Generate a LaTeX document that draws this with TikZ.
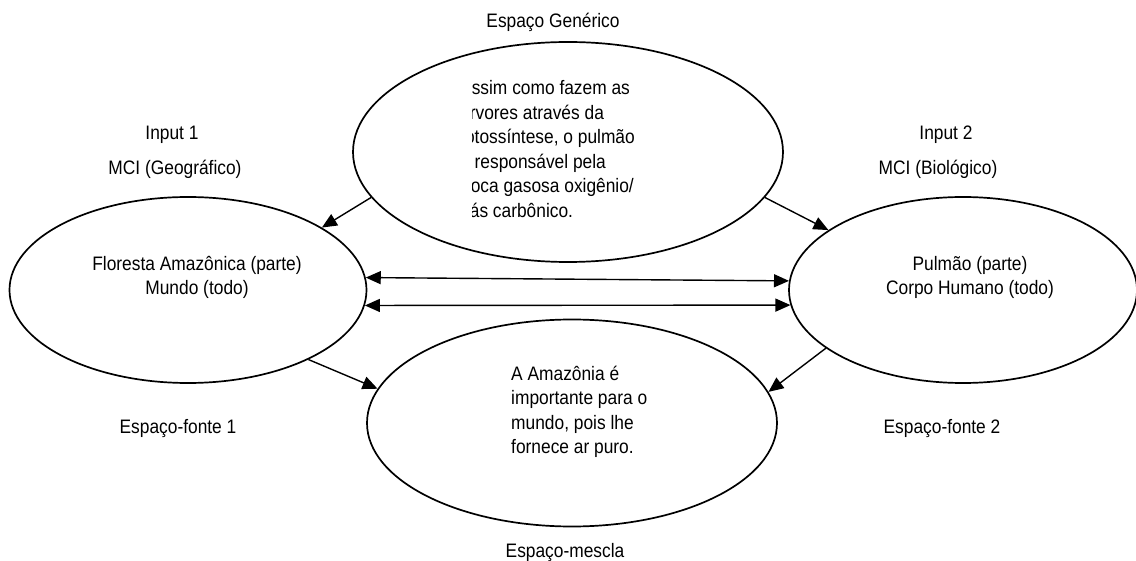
\documentclass[tikz,border=0pt]{standalone}
\usepackage{fontspec}
\setmainfont{Liberation Sans}[FakeStretch=0.89]
\usetikzlibrary{shapes.geometric,arrows.meta}
\begin{document}
\begin{tikzpicture}[x=1pt,y=-1pt,
  every node/.style={font=\fontsize{19.5pt}{24.5pt}\selectfont, inner sep=0pt},
  space/.style={ellipse, draw, line width=1.7pt, inner sep=0pt},
  arr/.style={line width=1.4pt, -{Triangle[length=15pt,width=13pt]}},
  darr/.style={line width=1.4pt, {Triangle[length=15pt,width=13pt]}-{Triangle[length=15pt,width=13pt]}}]
\useasboundingbox (0,0) rectangle (1136,561);
% ellipses
\node[space, minimum width=430pt, minimum height=220pt] (gen) at (568,152) {};
\node[space, minimum width=357pt, minimum height=186pt] (in1) at (188,290) {};
\node[space, minimum width=348pt, minimum height=186pt] (in2) at (963,290) {};
\node[space, minimum width=410pt, minimum height=207pt] (mix) at (572,423) {};
% labels
\node[anchor=base] (lgen) at (553,28) {Espaço Genérico};
\node[anchor=base] (li1) at (172,140) {Input 1};
\node[anchor=base] (lm1) at (175,175) {MCI (Geográfico)};
\node[anchor=base] (li2) at (946,140) {Input 2};
\node[anchor=base] (lm2) at (938,175) {MCI (Biológico)};
\node[anchor=base] (lf1) at (178,433) {Espaço-fonte 1};
\node[anchor=base] (lf2) at (942,433) {Espaço-fonte 2};
\node[anchor=base] (lmix) at (565,557) {Espaço-mescla};
% texts inside (base anchor = last line baseline)
\node[anchor=base, align=center] (t1) at (197,295) {Floresta Amazônica (parte)\\Mundo (todo)};
\node[anchor=base, align=center] (t2) at (970,295) {Pulmão (parte)\\Corpo Humano (todo)};
\node[anchor=base west, align=left] (tmix) at (511,453.5) {A Amazônia é\\importante para o\\mundo, pois lhe\\fornece ar puro.};
\begin{scope}
\clip (472,50) rectangle (760,240);
\node[anchor=base west, align=left] (tgen) at (460,217.5) {Assim como fazem as\\árvores através da\\fotossíntese, o pulmão\\é responsável pela\\troca gasosa oxigênio/\\gás carbônico.};
\end{scope}
% connectors
\draw[arr] (gen.193) -- (in1.25);
\draw[arr] (gen.347) -- (in2.156);
\draw[darr] (in1.4.5) -- (in2.177);
\draw[darr] (in1.355) -- (in2.185.5);
\draw[arr] (in1.330) -- (mix.170.4);
\draw[arr] (in2.203) -- (mix.9.7);
\end{tikzpicture}
\end{document}
